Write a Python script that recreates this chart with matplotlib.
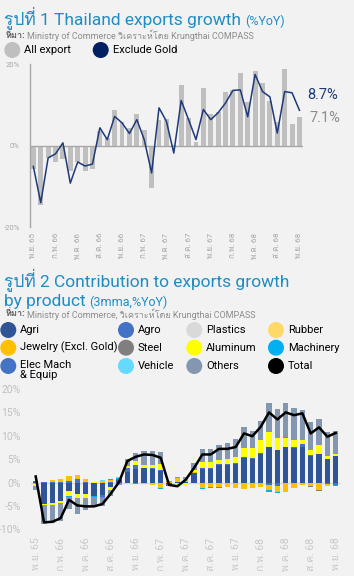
import numpy as np
import matplotlib
matplotlib.use("Agg")
import matplotlib.pyplot as plt
from matplotlib import font_manager
from matplotlib.ft2font import FT2Font
from matplotlib.patches import Circle

# --- data: chart 1 (monthly, %YoY) ---
months = ["พ.ย. 65", "ก.พ. 66", "พ.ค. 66", "ส.ค. 66", "พ.ย. 66", "ก.พ. 67", "พ.ค. 67",
          "ส.ค. 67", "พ.ย. 67", "ก.พ. 68", "พ.ค. 68", "ส.ค. 68", "พ.ย. 68"]
all_export = [-5.8, -14.6, -3.0, -4.1, -3.2, -6.3, -4.1, -6.3, -5.7, 3.6, 1.8, 8.7, 5.8,
              4.4, 7.9, 3.8, -10.5, 6.4, 6.6, 0.2, 15.0, 6.8, 1.0, 14.2, 7.9, 8.4, 13.3,
              13.7, 17.8, 10.8, 18.3, 15.3, 10.9, 5.8, 18.8, 5.4, 7.1]
exclude_gold = [-5.1, -14.0, -3.0, -2.0, 0.7, -9.2, -4.0, -5.0, -4.5, 4.4, 1.5, 7.2, 5.6,
                3.0, 6.4, 1.5, -6.7, 9.3, 6.0, -1.8, 11.1, 6.4, 1.5, 8.9, 6.4, 8.1, 10.5,
                13.6, 13.7, 7.1, 17.5, 13.3, 12.0, 3.1, 13.3, 13.0, 8.7]

# --- data: chart 2 (contribution, 3mma %YoY) ---
agri = [0.2, -4.5, -4.3, -4.0, -1.9, -2.4, -2.5, -2.8, -2.6, -1.0, 0.6, 2.3, 2.8,
        3.1, 2.9, 2.5, -0.4, 0.1, 0.2, 2.0, 3.0, 3.0, 3.8, 3.8, 4.0, 5.3, 5.1,
        6.1, 7.7, 7.0, 7.7, 7.4, 7.7, 5.6, 6.1, 5.1, 5.6]
agro = [0.1, 0.2, 0.2, 0.1, 0.4, 0.8, 0.1, 0.0, -0.6, 0.2, 0.1, 0.8, 0.9,
        0.1, 0.2, 0.1, -0.3, 0.0, 0.0, 0.1, 0.2, 0.1, 0.2, 0.1, 0.1, 0.1, 0.1,
        0.2, -0.6, -0.8, -0.2, 0.1, 0.6, 0.2, 0.1, -0.3, -0.5]
plastics = [0.0, 0.0, 0.0, 0.0, 0.0, 0.0, 0.0, 0.0, 0.0, 0.0, 0.0, 0.0, 0.0,
            0.0, 0.0, 0.0, 0.0, 0.0, 0.0, 0.0, 0.0, 0.0, 0.0, 0.0, 0.0, 0.0, 0.0,
            0.0, 0.0, 0.0, 0.0, 0.0, 0.0, 0.0, 0.0, 0.0, 0.0]
rubber = [0.0, 0.0, 0.0, 0.0, 0.0, 0.0, 0.0, 0.0, 0.0, 0.0, 0.0, 0.0, 0.0,
          0.0, 0.0, 0.0, 0.0, 0.0, 0.0, 0.0, 0.0, 0.0, 0.0, 0.0, 0.0, 0.0, 0.0,
          0.0, 0.0, 0.0, 0.0, 0.0, 0.0, 0.0, 0.0, 0.0, 0.0]
jewelry = [-0.3, 0.0, 0.3, 0.6, 1.1, 0.9, 0.6, 0.0, 0.4, 0.4, 0.1, 0.0, -0.1,
           -0.3, -0.5, -1.1, 0.2, 0.8, 0.6, 0.2, -1.1, -1.0, -1.0, -1.0, -1.2, -1.4, -1.1,
           -1.0, -1.1, -1.2, -1.8, -1.2, -0.6, -0.7, -1.6, -0.5, -0.1]
steel = [0.0, 0.0, 0.0, 0.0, 0.0, 0.0, 0.0, 0.0, 0.0, 0.0, 0.0, 0.0, 0.0,
         0.0, 0.0, 0.0, 0.0, 0.0, 0.0, 0.0, 0.0, 0.0, 0.0, 0.0, 0.0, 0.0, 0.0,
         0.0, 0.0, 0.0, 0.0, 0.0, 0.0, -0.2, -0.2, 0.0, 0.0]
aluminum = [-0.4, -0.3, -0.4, -0.3, -0.9, -0.9, -0.9, 0.2, 0.0, -0.6, -0.2, 0.5, 0.8,
            0.6, 0.6, 1.3, 0.0, -1.0, -0.7, 0.3, 1.1, 1.2, 0.9, 1.1, 1.3, 1.9, 2.1,
            2.7, 3.2, 2.5, 1.8, 1.6, 0.9, 1.1, 1.8, 0.6, 0.6]
machinery = [0.0, 0.0, 0.0, 0.0, -0.2, 0.0, 0.0, -0.3, -0.2, 0.2, 0.2, -0.2, -0.2,
             -0.1, 0.0, -0.2, 0.0, 0.0, 0.0, 0.0, -0.3, -0.2, -0.2, 0.0, 0.0, 0.0, 0.0,
             0.0, -0.3, -0.3, 0.2, 0.0, 0.0, 0.0, 0.0, 0.0, -0.2]
elec = [0.0, 0.0, 0.0, 0.0, 0.0, 0.0, 0.0, 0.0, 0.0, 0.0, 0.0, 0.0, 0.0,
        0.0, 0.0, 0.0, 0.0, 0.0, 0.0, 0.0, 0.0, 0.0, 0.0, 0.0, 0.0, 0.0, 0.0,
        0.0, 0.0, 0.0, 0.0, 0.0, 0.0, 0.0, 0.0, 0.0, 0.0]
vehicle = [0.0, 0.0, 0.0, 0.0, 0.0, 0.0, 0.0, 0.0, 0.2, 0.0, 0.2, 0.0, 0.0,
           0.0, 0.0, 0.0, 0.0, 0.0, 0.0, 0.0, 0.0, 0.0, 0.0, 0.0, 0.0, 0.0, 0.0,
           0.0, 0.0, 0.0, 0.0, 0.0, 0.0, 0.0, 0.0, 0.0, 0.0]
others = [-1.0, -4.0, -3.9, -3.9, -2.6, -3.4, -2.5, -2.0, -1.7, -1.2, -0.4, 1.4, 1.8,
          3.0, 3.0, 2.6, 0.2, 0.2, 0.4, 1.5, 2.9, 2.9, 3.2, 3.4, 3.9, 4.6, 3.8,
          4.1, 6.1, 6.3, 7.4, 6.8, 6.4, 6.1, 5.5, 5.1, 4.9]
total = [1.3, -8.5, -8.4, -7.6, -3.7, -4.9, -5.1, -5.1, -4.6, -2.4, 0.1, 4.6, 5.5,
         6.0, 5.9, 5.3, -0.5, -0.8, 0.6, 3.1, 6.0, 6.0, 7.2, 7.2, 7.6, 10.5, 9.9,
         11.9, 15.0, 13.5, 15.0, 14.4, 14.8, 10.5, 11.8, 9.8, 10.6]

series_vals = [agri, agro, plastics, rubber, jewelry, steel, aluminum, machinery, elec, vehicle, others]
series_colors = ["#2F5597", "#4472C4", "#D9D9D9", "#FFD966", "#FFC000", "#7F7F7F",
                 "#FFFF00", "#00B0F0", "#4472C4", "#66D9FF", "#8497B0"]


# --- fonts: find something that has Thai glyphs ---
def find_thai_family():
    found = []
    for f in font_manager.fontManager.ttflist:
        try:
            cmap = FT2Font(f.fname).get_charmap()
        except Exception:
            continue
        if 0x0E23 in cmap and 0x0E35 in cmap and f.name not in found:
            found.append(f.name)
    return found

thai = find_thai_family()
FAM = ["Roboto"] + thai[:1] + ["DejaVu Sans"]
plt.rcParams['font.family'] = FAM

BG = "#F2F2F2"
TEAL = "#1F8DC4"
NAVY = "#1F3A78"
W, H = 354, 576

fig = plt.figure(figsize=(W / 100, H / 100), dpi=100, facecolor=BG)

# overlay in pixel coords for titles and legends
ov = fig.add_axes([0, 0, 1, 1])
ov.set_xlim(0, W)
ov.set_ylim(H, 0)
ov.axis('off')


def title_pair(x, y, big, small, big_size=12.5, small_size=9):
    t = ov.text(x, y, big, fontsize=big_size, color=TEAL, va='baseline', ha='left')
    fig.canvas.draw()
    bb = t.get_window_extent(fig.canvas.get_renderer())
    ov.text(bb.x1 + 4, y, small, fontsize=small_size, color=TEAL, va='baseline', ha='left')


def source_line(y, rest):
    t = ov.text(5, y, "ที่มา:", fontsize=6.5, color="#606060", fontweight='bold', va='center')
    fig.canvas.draw()
    bb = t.get_window_extent(fig.canvas.get_renderer())
    ov.text(bb.x1 + 2, y, rest, fontsize=6.5, color="#8C8C8C", va='center')


# ---------------- chart 1 ----------------
title_pair(4, 25, "รูปที่ 1 Thailand exports growth", "(%YoY)")
source_line(35, "Ministry of Commerce วิเคราะห์โดย Krungthai COMPASS")

for cx, col, lab in [(12.3, "#BFBFBF", "All export"), (100.7, "#002060", "Exclude Gold")]:
    ov.add_patch(Circle((cx, 50), 7.3, color=col))
    ov.text(cx + 12, 50, lab, fontsize=8, color="black", va='center')

ax1 = fig.add_axes([29.5 / W, 1 - 227.1 / H, 273.8 / W, (227.1 - 64.3) / H])
ax1.set_facecolor('none')
x = np.arange(len(all_export))
ax1.bar(x, all_export, width=0.66, color="#BFBFBF", zorder=1)
ax1.plot(x, exclude_gold, color=NAVY, lw=1.1, zorder=3)
ax1.axhline(0, color="#A6A6A6", lw=1.0, zorder=2)
ax1.set_xlim(-0.52, 36.52)
ax1.set_ylim(-20, 20)
ax1.set_yticks([-20, 0, 20])
ax1.set_yticklabels(["-20%", "0%", "20%"])
ax1.set_xticks(x[::3])
ax1.set_xticklabels(months, rotation=90)
ax1.tick_params(axis='y', length=0, pad=7, labelsize=5.5, labelcolor="#A6A6A6")
ax1.tick_params(axis='x', length=0, pad=4, labelsize=5.8, labelcolor="#A6A6A6")
for s in ["top", "right", "bottom"]:
    ax1.spines[s].set_visible(False)
ax1.spines["left"].set_color("#A6A6A6")
ax1.spines["left"].set_linewidth(1.0)

ov.text(307, 95, f"{exclude_gold[-1]:.1f}%", fontsize=10.5, color=NAVY, va='center')
ov.text(309, 118, f"{all_export[-1]:.1f}%", fontsize=10.5, color="#8C8C8C", va='center')

# ---------------- chart 2 ----------------
ov.text(4, 287, "รูปที่ 2 Contribution to exports growth", fontsize=12.5, color=TEAL, va='baseline')
title_pair(4, 306, "by product", "(3mma,%YoY)")
source_line(314, "Ministry of Commerce, วิเคราะห์โดย Krungthai COMPASS")

leg_items = [("Agri", "#2F5597"), ("Agro", "#4472C4"), ("Plastics", "#D9D9D9"), ("Rubber", "#FFD966"),
             ("Jewelry (Excl. Gold)", "#FFC000"), ("Steel", "#7F7F7F"), ("Aluminum", "#FFFF00"), ("Machinery", "#00B0F0"),
             ("Elec Mach\n& Equip", "#4472C4"), ("Vehicle", "#66D9FF"), ("Others", "#8497B0"), ("Total", "#000000")]
col_x = [8.3, 126, 194.3, 276]
row_y = [330, 347.7, 366]
for k, (lab, col) in enumerate(leg_items):
    cx, cy = col_x[k % 4], row_y[k // 4]
    ov.add_patch(Circle((cx, cy), 7.3, color=col))
    ty = cy + 4 if "\n" in lab else cy
    ov.text(cx + 12, ty, lab, fontsize=8, color="black", va='center', linespacing=0.95)

ax2 = fig.add_axes([30.7 / W, 1 - 529.3 / H, 310.0 / W, (529.3 - 389.0) / H])
ax2.set_facecolor('none')
x2 = np.arange(len(total))
pos = np.zeros(len(total))
neg = np.zeros(len(total))
for vals, col in zip(series_vals, series_colors):
    v = np.array(vals)
    bottom = np.where(v >= 0, pos, neg)
    ax2.bar(x2, v, bottom=bottom, width=0.62, color=col, zorder=2)
    pos = pos + np.where(v >= 0, v, 0)
    neg = neg + np.where(v < 0, v, 0)
ax2.plot(x2, total, color="black", lw=1.8, zorder=4)
ax2.axhline(0, color="#D9D9D9", lw=1.0, zorder=1)
ax2.set_xlim(-0.6, 36.6)
ax2.set_ylim(-10, 20)
ax2.set_yticks(np.arange(-10, 21, 5))
ax2.set_yticklabels([f"{v}%" for v in range(-10, 21, 5)])
ax2.set_xticks(x2[::3])
ax2.set_xticklabels(months, rotation=90)
ax2.tick_params(axis='y', length=0, pad=7, labelsize=7.5, labelcolor="#C0C0C0")
ax2.tick_params(axis='x', length=0, pad=6, labelsize=7.5, labelcolor="#C8C8C8")
for s in ax2.spines.values():
    s.set_visible(False)

fig.savefig("out.png", dpi=100, facecolor=BG)
